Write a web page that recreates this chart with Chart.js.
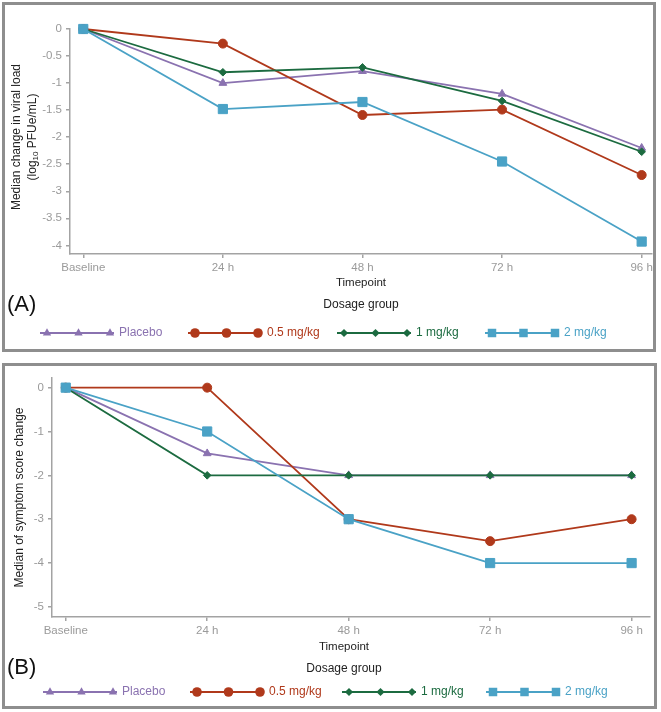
<!DOCTYPE html>
<html>
<head>
<meta charset="utf-8">
<script src="https://cdn.jsdelivr.net/npm/chart.js@4.4.1/dist/chart.umd.min.js"></script>
<style>
  body { margin: 0; background: #fff; width: 661px; height: 712px; position: relative; overflow: hidden; }
  canvas { position: absolute; left: 0; }
  #cA { top: 0; }
  #cB { top: 358px; }
  .frame { position: absolute; border: 3px solid #8e8e8e; box-sizing: border-box; pointer-events: none; }
</style>
</head>
<body>
<canvas id="cA" width="661" height="358"></canvas>
<canvas id="cB" width="661" height="354"></canvas>
<div class="frame" style="left:2px;top:2px;width:654px;height:350px"></div>
<div class="frame" style="left:2px;top:363px;width:655px;height:346px"></div>
<script>
var timepoints = ['Baseline', '24 h', '48 h', '72 h', '96 h'];
var groups = ['Placebo', '0.5 mg/kg', '1 mg/kg', '2 mg/kg'];

// (A) median change in viral load
var viralPlacebo = [0, -1.0, -0.78, -1.2, -2.2];
var viral05 = [0, -0.27, -1.59, -1.49, -2.7];
var viral1 = [0, -0.8, -0.71, -1.33, -2.27];
var viral2 = [0, -1.48, -1.35, -2.45, -3.93];
var viralTicks = [0, -0.5, -1, -1.5, -2, -2.5, -3, -3.5, -4];

// (B) median of symptom score change
var symPlacebo = [0, -1.5, -2, -2, -2];
var sym05 = [0, 0, -3, -3.5, -3];
var sym1 = [0, -2, -2, -2, -2];
var sym2 = [0, -1, -3, -4, -4];
var symTicks = [0, -1, -2, -3, -4, -5];

var colors = ['#8a72b0', '#b0391b', '#1c6b40', '#4aa2c6'];
var shapes = ['triangle', 'circle', 'rectRot', 'rect'];
var radii = [4.5, 4.5, 3.8, 6.5];
// lower order is painted on top: blue, green, red, purple
var drawOrder = [3, 2, 1, 0];
var FONT = 'Liberation Sans, Arial, sans-serif';
var tickGrey = '#9a9a9a';
var axisGrey = '#a3a3a3';

function marker(ctx, shape, x, y, r, color) {
  ctx.beginPath();
  if (shape === 'circle') {
    ctx.arc(x, y, r, 0, 2 * Math.PI);
  } else if (shape === 'rect') {
    var s = r * Math.SQRT1_2;
    ctx.rect(x - s, y - s, 2 * s, 2 * s);
  } else if (shape === 'rectRot') {
    ctx.moveTo(x, y - r); ctx.lineTo(x + r, y); ctx.lineTo(x, y + r); ctx.lineTo(x - r, y);
    ctx.closePath();
  } else {
    ctx.moveTo(x, y - r); ctx.lineTo(x + 0.866 * r, y + 0.5 * r); ctx.lineTo(x - 0.866 * r, y + 0.5 * r);
    ctx.closePath();
  }
  ctx.fillStyle = color;
  ctx.fill();
}

// draws a line of text runs centred on (0,0); runs may be subscripts
function drawRuns(ctx, runs) {
  var total = 0;
  runs.forEach(function (r) {
    ctx.font = (r.sub ? '8px ' : '12px ') + FONT;
    r.w = ctx.measureText(r.t).width;
    total += r.w;
  });
  var x = -total / 2;
  runs.forEach(function (r) {
    ctx.font = (r.sub ? '8px ' : '12px ') + FONT;
    ctx.fillText(r.t, x, r.sub ? 3 : 0);
    x += r.w;
  });
}

var panelText = {
  id: 'panelText',
  afterDraw: function (chart, args, o) {
    var ctx = chart.ctx;
    ctx.save();
    ctx.textBaseline = 'middle';
    ctx.textAlign = 'left';
    ctx.fillStyle = '#222';
    // y axis title, rotated
    o.yTitle.forEach(function (runs, i) {
      ctx.save();
      ctx.translate(o.yTitleX[i], o.yTitleY);
      ctx.rotate(-Math.PI / 2);
      ctx.fillStyle = '#222';
      drawRuns(ctx, runs);
      ctx.restore();
    });
    ctx.textAlign = 'center';
    ctx.font = '11.5px ' + FONT;
    ctx.fillText('Timepoint', o.xTitleX, o.xTitleY);
    ctx.font = '12px ' + FONT;
    ctx.fillText('Dosage group', o.xTitleX, o.groupY);
    ctx.textAlign = 'left';
    ctx.fillStyle = '#111';
    ctx.font = '22px ' + FONT;
    ctx.fillText(o.tag, 7, o.tagY);
    // legend
    groups.forEach(function (g, i) {
      var sx = o.legendX[i], y = o.legendY;
      ctx.strokeStyle = colors[i];
      ctx.lineWidth = 1.8;
      ctx.beginPath();
      ctx.moveTo(sx, y);
      ctx.lineTo(sx + 74, y);
      ctx.stroke();
      [7, 38.5, 70].forEach(function (dx) {
        marker(ctx, shapes[i], sx + dx, y, i === 3 ? 6 : radii[i] + 0.3, colors[i]);
      });
      ctx.fillStyle = colors[i];
      ctx.font = '12px ' + FONT;
      ctx.fillText(g, sx + 79, y);
    });
    ctx.restore();
  }
};

function makeChart(id, series, yTicks, cfg) {
  var datasets = series.map(function (vals, i) {
    return {
      label: groups[i],
      data: vals.map(function (v, k) { return { x: k, y: v }; }),
      borderColor: colors[i],
      backgroundColor: colors[i],
      borderWidth: 1.8,
      pointStyle: shapes[i],
      pointRadius: radii[i],
      pointBackgroundColor: colors[i],
      pointBorderColor: colors[i],
      pointBorderWidth: 1,
      order: drawOrder[i],
      clip: false,
      tension: 0
    };
  });
  return new Chart(document.getElementById(id), {
    type: 'line',
    data: { datasets: datasets },
    options: {
      responsive: false,
      animation: false,
      layout: { padding: cfg.padding },
      plugins: { legend: { display: false }, tooltip: { enabled: false }, panelText: cfg.text },
      scales: {
        x: {
          type: 'linear',
          min: cfg.xMin,
          max: cfg.xMax,
          afterBuildTicks: function (ax) { ax.ticks = timepoints.map(function (t, i) { return { value: i }; }); },
          afterFit: function (ax) { ax.height = 20; },
          ticks: {
            autoSkip: false, maxRotation: 0, padding: 3, color: tickGrey,
            font: { family: FONT, size: 11.5 },
            callback: function (v) { return timepoints[v]; }
          },
          grid: { drawOnChartArea: false, tickLength: 4, color: axisGrey, lineWidth: 1.5 },
          border: { color: axisGrey, width: 1.5 }
        },
        y: {
          min: cfg.yMin,
          max: cfg.yMax,
          afterBuildTicks: function (ax) { ax.ticks = yTicks.map(function (v) { return { value: v }; }); },
          afterFit: function (ax) { ax.width = cfg.yWidth; },
          ticks: {
            padding: 4, color: tickGrey,
            font: { family: FONT, size: 11.5 },
            callback: function (v) { return String(v); }
          },
          grid: { drawOnChartArea: false, tickLength: 4, color: axisGrey, lineWidth: 1.5 },
          border: { color: axisGrey, width: 1.5 }
        }
      }
    },
    plugins: [panelText]
  });
}

makeChart('cA', [viralPlacebo, viral05, viral1, viral2], viralTicks, {
  padding: { left: 0, right: 9, top: 29, bottom: 84 },
  xMin: -0.095, xMax: 4.074, yMin: -4.16, yMax: 0, yWidth: 70,
  text: {
    yTitle: [
      [{ t: 'Median change in viral load' }],
      [{ t: '(log' }, { t: '10', sub: true }, { t: ' PFUe/mL)' }]
    ],
    yTitleX: [17, 33], yTitleY: 137,
    xTitleX: 361, xTitleY: 283, groupY: 305,
    tag: '(A)', tagY: 305,
    legendX: [40, 188, 337, 485], legendY: 333
  }
});

makeChart('cB', [symPlacebo, sym05, sym1, sym2], symTicks, {
  padding: { left: 0, right: 11, top: 20, bottom: 75 },
  xMin: -0.097, xMax: 4.13, yMin: -5.23, yMax: 0.22, yWidth: 52,
  text: {
    yTitle: [[{ t: 'Median of symptom score change' }]],
    yTitleX: [20], yTitleY: 139.5,
    xTitleX: 344, xTitleY: 289, groupY: 311,
    tag: '(B)', tagY: 310,
    legendX: [43, 190, 342, 486], legendY: 334
  }
});
</script>
</body>
</html>
